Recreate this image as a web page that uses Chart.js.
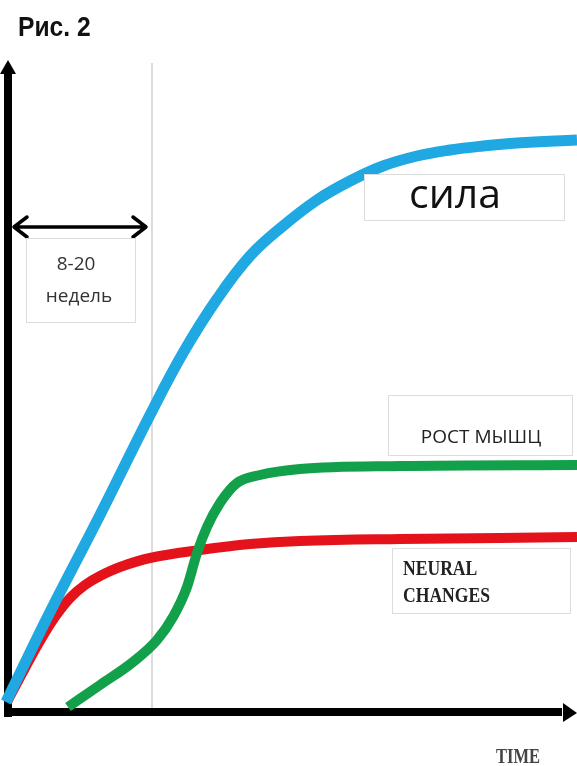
<!DOCTYPE html>
<html>
<head>
<meta charset="utf-8">
<script src="https://cdn.jsdelivr.net/npm/chart.js@4.4.1/dist/chart.umd.min.js"></script>
<style>
    body { margin: 0; background: #fff; }
    #wrap { position: relative; width: 577px; height: 766px; }
</style>
</head>
<body>
<div id="wrap"><canvas id="grafico"></canvas></div>
<script>
// x = время от начала оси, y = величина над осью (условные единицы)
const silaX = [-2, 42, 92, 142, 175, 209, 242, 275, 309, 342, 375, 409, 442, 475, 509, 569];
const silaY = [10, 100, 197, 297, 359, 413, 456, 486, 512, 531, 546, 556, 562, 566, 569, 572];

const rostX = [60, 92, 125, 149, 165, 179, 189, 199, 212, 229, 252, 292, 392, 569];
const rostY = [5, 27, 50, 72, 95, 125, 159, 185, 209, 229, 237, 243, 246, 247];

const neuralX = [-1, 17, 32, 47, 62, 77, 92, 112, 142, 192, 242, 292, 392, 492, 569];
const neuralY = [10, 44, 71, 95, 114, 127, 136, 145, 154, 162, 168, 171, 173, 174, 175];

const labels = ['сила', 'РОСТ МЫШЦ', 'NEURAL CHANGES'];
const periodo = ['8-20', 'недель'];
const titulo = 'Рис. 2';
const eixoX = 'TIME';

function pontos(xs, ys){
    return xs.map((x, i) => ({x: x, y: ys[i]}));
}

function texto(ctx, txt, x, y, font, color, align, sx){
    ctx.save();
    ctx.translate(x, y);
    ctx.scale(sx || 1, 1);
    ctx.font = font;
    ctx.fillStyle = color;
    ctx.textAlign = align || 'left';
    ctx.textBaseline = 'alphabetic';
    ctx.fillText(txt, 0, 0);
    ctx.restore();
}

function caixa(ctx, x1, y1, x2, y2){
    ctx.save();
    ctx.fillStyle = '#fff';
    ctx.fillRect(x1, y1, x2 - x1, y2 - y1);
    ctx.strokeStyle = '#dcdcdc';
    ctx.lineWidth = 1;
    ctx.strokeRect(x1 + 0.5, y1 + 0.5, x2 - x1, y2 - y1);
    ctx.restore();
}

// eixos, linha cinza e seta dupla (atrás das curvas)
const fundo = {
    id: 'fundo',
    beforeDatasetsDraw(chart){
        const ctx = chart.ctx;
        const ox = chart.scales.x.getPixelForValue(0);
        const oy = chart.scales.y.getPixelForValue(0);

        ctx.save();
        // linha cinza
        ctx.strokeStyle = '#cfcfcf';
        ctx.lineWidth = 1.5;
        ctx.beginPath();
        ctx.moveTo(152, 63);
        ctx.lineTo(152, oy + 4);
        ctx.stroke();

        // eixo y
        ctx.fillStyle = '#000';
        ctx.fillRect(ox - 4, 72, 8, oy - 72 + 5);
        ctx.beginPath();
        ctx.moveTo(ox - 8, 74);
        ctx.lineTo(ox, 60);
        ctx.lineTo(ox + 8, 74);
        ctx.closePath();
        ctx.fill();

        // eixo x
        ctx.fillRect(ox - 4, oy - 4, 566 - ox, 8);
        ctx.beginPath();
        ctx.moveTo(563, oy - 9);
        ctx.lineTo(577, oy + 1);
        ctx.lineTo(563, oy + 10);
        ctx.closePath();
        ctx.fill();

        // seta dupla
        ctx.strokeStyle = '#000';
        ctx.lineWidth = 3.5;
        ctx.lineCap = 'round';
        ctx.lineJoin = 'round';
        ctx.beginPath();
        ctx.moveTo(14, 227);
        ctx.lineTo(146, 227);
        ctx.moveTo(27, 217);
        ctx.lineTo(14, 227);
        ctx.lineTo(27, 237);
        ctx.moveTo(133, 217);
        ctx.lineTo(146, 227);
        ctx.lineTo(133, 237);
        ctx.stroke();
        ctx.restore();
    },
    afterDatasetsDraw(chart){
        const ctx = chart.ctx;

        texto(ctx, titulo, 18, 36, 'bold 28px "Liberation Sans"', '#111', 'left', 0.88);

        caixa(ctx, 26, 238, 135, 322);
        texto(ctx, periodo[0], 76, 270, '19px "Open Sans"', '#333', 'center');
        texto(ctx, periodo[1], 79, 302, '19px "Open Sans"', '#333', 'center');

        caixa(ctx, 364, 174, 564, 220);
        texto(ctx, labels[0], 455, 208, '41px "Open Sans"', '#111', 'center');

        caixa(ctx, 388, 395, 572, 455);
        texto(ctx, labels[1], 481, 443, '19px "Open Sans"', '#222', 'center');

        caixa(ctx, 392, 548, 570, 613);
        const nc = labels[2].split(' ');
        texto(ctx, nc[0], 403, 575, 'bold 22px "Liberation Serif"', '#222', 'left', 0.8);
        texto(ctx, nc[1], 403, 602, 'bold 22px "Liberation Serif"', '#222', 'left', 0.8);

        texto(ctx, eixoX, 518, 763, 'bold 22px "Liberation Serif"', '#444', 'center', 0.75);
    }
};

const ctxG = document.getElementById('grafico');
let grafico = new Chart(ctxG, {
    type: 'line',
    data: {
        datasets: [
            {
                label: labels[0],
                data: pontos(silaX, silaY),
                borderColor: '#1fa8e1',
                borderWidth: 11,
                tension: 0.4,
                pointRadius: 0,
                order: 0
            },
            {
                label: labels[1],
                data: pontos(rostX, rostY),
                borderColor: '#12a04a',
                borderWidth: 10,
                cubicInterpolationMode: 'monotone',
                pointRadius: 0,
                order: 1
            },
            {
                label: labels[2],
                data: pontos(neuralX, neuralY),
                borderColor: '#e4131b',
                borderWidth: 10,
                tension: 0.4,
                pointRadius: 0,
                order: 2
            }
        ]
    },
    options: {
        responsive: true,
        maintainAspectRatio: false,
        animation: false,
        layout: { padding: 0 },
        plugins: {
            legend: { display: false },
            tooltip: { enabled: false }
        },
        scales: {
            x: { type: 'linear', min: -8, max: 569, display: false },
            y: { min: -54, max: 712, display: false }
        }
    },
    plugins: [fundo]
});
</script>
</body>
</html>
